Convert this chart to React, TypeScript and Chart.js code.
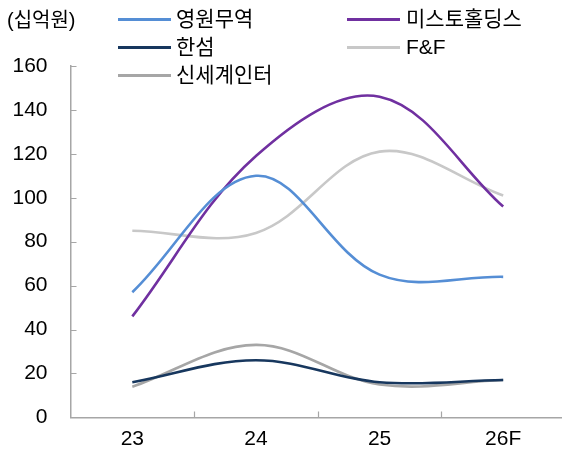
import React, { useEffect, useRef } from "react";
import { Chart, registerables } from "chart.js";

Chart.register(...registerables);

const categories = ["23", "24", "25", "26F"];
const youngone = [57, 110, 65, 64];
const misto = [46, 119, 146, 96];
const handsome = [16, 26, 16, 17];
const fnf = [85, 84, 121, 101];
const shinsegae = [14, 33, 15, 17];

const seriesNames = ["영원무역", "미스토홀딩스", "한섬", "F&F", "신세계인터"];
const seriesColors = ["#558ED5", "#7030A0", "#17375E", "#C8C8C8", "#A6A6A6"];
const unitLabel = "(십억원)";

const AXIS_COLOR = "#A6A6A6";
const FONT = "'Liberation Sans', Arial, 'Noto Sans CJK KR', sans-serif";

const innerTicks = {
  id: "innerTicks",
  afterDraw(chart: any) {
    const { ctx, chartArea, scales } = chart;
    const x = scales.x;
    const y = scales.y;
    ctx.save();
    ctx.strokeStyle = AXIS_COLOR;
    ctx.lineWidth = 1.2;
    ctx.beginPath();
    y.ticks.forEach((t: any) => {
      const py = Math.round(y.getPixelForValue(t.value)) + 0.5;
      ctx.moveTo(chartArea.left, py);
      ctx.lineTo(chartArea.left + 6, py);
    });
    for (let i = 1; i < categories.length; i++) {
      const px = Math.round((x.getPixelForValue(i - 1) + x.getPixelForValue(i)) / 2) + 0.5;
      ctx.moveTo(px, chartArea.bottom);
      ctx.lineTo(px, chartArea.bottom - 6);
    }
    ctx.stroke();
    ctx.restore();
  },
};

export default function App() {
  const ref = useRef<HTMLCanvasElement>(null);

  useEffect(() => {
    if (!ref.current) return;
    const data = [youngone, misto, handsome, fnf, shinsegae];
    const chart = new Chart(ref.current, {
      type: "line",
      data: {
        labels: categories,
        datasets: data.map((d, i) => ({
          label: seriesNames[i],
          data: d,
          borderColor: seriesColors[i],
          backgroundColor: seriesColors[i],
          borderWidth: 2.6,
          pointRadius: 0,
          tension: 0.36,
          fill: false,
        })),
      },
      options: {
        responsive: false,
        animation: false,
        devicePixelRatio: 1,
        layout: { padding: { top: 66, right: 1, left: 0, bottom: 0 } },
        plugins: { legend: { display: false }, tooltip: { enabled: false } },
        scales: {
          x: {
            offset: true,
            grid: { display: false, drawTicks: false },
            border: { display: true, color: AXIS_COLOR, width: 1.5 },
            ticks: { color: "#000", font: { family: FONT, size: 21 }, padding: 9, maxRotation: 0 },
            afterFit: (s: any) => {
              s.height = 31;
            },
          },
          y: {
            min: 0,
            max: 160,
            grid: { display: false, drawTicks: false },
            border: { display: true, color: AXIS_COLOR, width: 1.5 },
            ticks: { stepSize: 20, color: "#000", font: { family: FONT, size: 21 }, padding: 23 },
            afterFit: (s: any) => {
              s.width = 70.5;
            },
          },
        },
      },
      plugins: [innerTicks],
    });
    return () => chart.destroy();
  }, []);

  const legendPos = [
    { lx: 118, tx: 176, y: 19 },
    { lx: 347, tx: 406, y: 19 },
    { lx: 118, tx: 176, y: 47 },
    { lx: 347, tx: 406, y: 47 },
    { lx: 118, tx: 176, y: 75 },
  ];

  return (
    <div style={{ position: "absolute", left: 0, top: 0, width: 562, height: 453, overflow: "hidden", background: "#fff" }}>
      <canvas ref={ref} width={566} height={453} style={{ position: "absolute", left: 0, top: 0 }} />
      <div
        style={{
          position: "absolute",
          left: 7,
          top: 9,
          fontFamily: FONT,
          fontSize: 20,
          lineHeight: "22px",
          color: "#000",
          whiteSpace: "nowrap",
        }}
      >
        {unitLabel}
      </div>
      {seriesNames.map((name, i) => (
        <React.Fragment key={name}>
          <div
            style={{
              position: "absolute",
              left: legendPos[i].lx,
              top: legendPos[i].y - 1.5,
              width: 53,
              height: 3,
              background: seriesColors[i],
            }}
          />
          <div
            style={{
              position: "absolute",
              left: legendPos[i].tx,
              top: legendPos[i].y - 11,
              fontFamily: FONT,
              fontSize: 21,
              lineHeight: "22px",
              color: "#000",
              whiteSpace: "nowrap",
            }}
          >
            {name}
          </div>
        </React.Fragment>
      ))}
    </div>
  );
}
